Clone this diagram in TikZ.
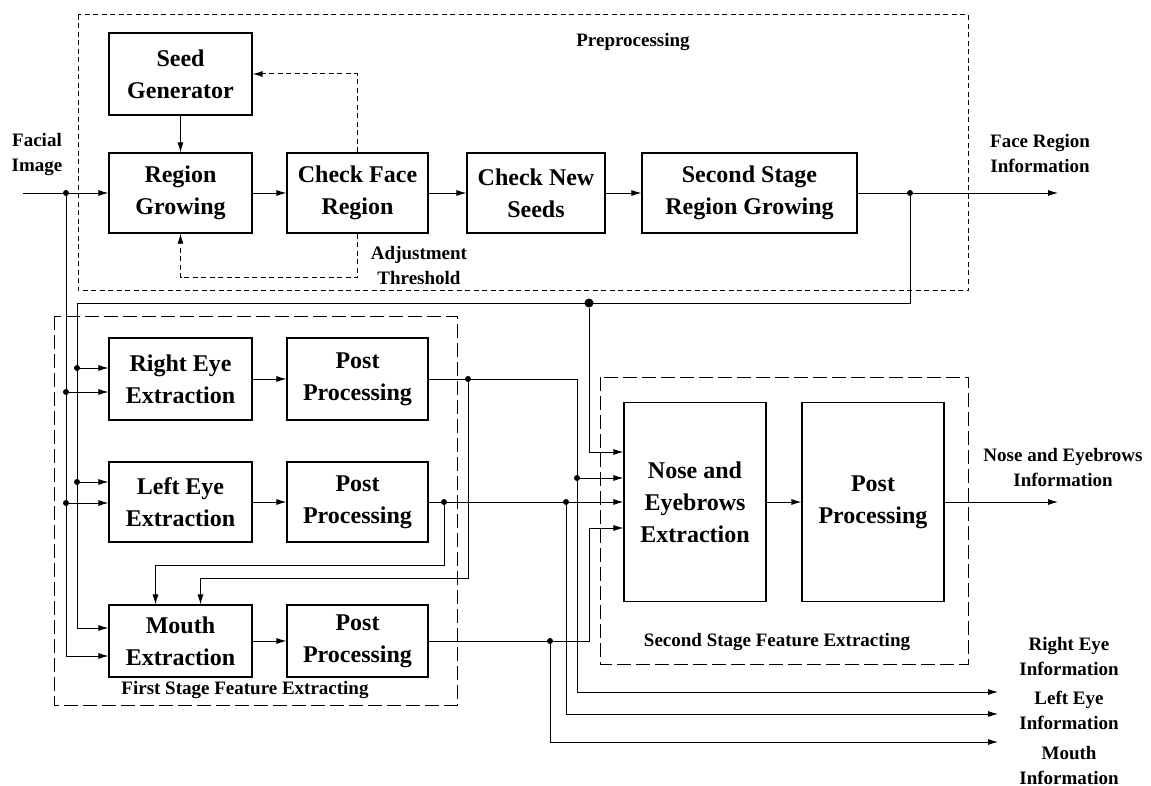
\documentclass[tikz,border=0pt]{standalone}
\usepackage{fontspec}
\setmainfont{Liberation Serif}
\usetikzlibrary{arrows.meta}

\tikzset{
  blk/.style={draw,line width=1.1pt,align=center,inner sep=0pt,
    font=\fontsize{24}{32}\selectfont\bfseries},
  lbl/.style={align=center,inner sep=0pt,
    font=\fontsize{19}{25}\selectfont\bfseries},
  area/.style={line width=1pt,dash pattern=on 14pt off 5pt},
  fback/.style={line width=1pt,dash pattern=on 5pt off 3.5pt},
  dot/.style={circle,fill,inner sep=0pt,minimum size=6pt}
}

\begin{document}
\begin{tikzpicture}[x=1pt,y=-1pt,>={Latex[length=10pt,width=6pt]},line width=0.9pt]
  \useasboundingbox (0,0) rectangle (1151,786);
  % preprocessing
  \draw[fback] (78,15) rectangle (968,291);
  \node[lbl] (pre) at (633,42) {Preprocessing};
  \node[blk,minimum width=143pt,minimum height=82pt] (seed) at (180.5,74) {Seed\\Generator};
  \node[blk,minimum width=143pt,minimum height=80pt] (grow) at (180.5,193) {Region\\Growing};
  \node[blk,minimum width=141pt,minimum height=80pt] (chk) at (357.5,193) {Check Face\\Region};
  \node[blk,minimum width=138pt,minimum height=80pt] (nseed) at (536,193) {Check New\\Seeds};
  \node[blk,minimum width=215pt,minimum height=80pt] (sgrow) at (749.5,193) {Second Stage\\Region Growing};
  \node[lbl] (fimg) at (37,155) {Facial\\Image};
  \node[lbl] (adjt) at (419,266) {Adjustment\\Threshold};
  \node[lbl] (finfo) at (1040,154) {Face Region\\Information};
  \coordinate (fin) at (23,193);
  \node[dot] (jin) at (66,193) {};
  \draw[->] (fin) -- (grow);
  \draw[->] (seed) -- (grow);
  \draw[->] (grow) -- (chk);
  \draw[->] (chk) -- (nseed);
  \draw[->] (nseed) -- (sgrow);
  \draw[fback,->] (chk.north) |- (seed.east);
  \coordinate (adj) at (357.5,278);
  \draw[fback,->] (chk.south) -- (adj) -| (grow.south);
  \node[dot] (jface) at (910,193) {};
  \coordinate (oface) at (1058,193);
  \draw[->] (sgrow) -- (oface);

  % first stage
  \draw[area] (54,316) rectangle (457,705);
  \node[lbl] (fst) at (245,690) {First Stage Feature Extracting};
  \node[blk,minimum width=143pt,minimum height=82pt] (rex) at (180.5,379) {Right Eye\\Extraction};
  \node[blk,minimum width=141pt,minimum height=82pt] (rpo) at (357.5,379) {Post\\Processing};
  \node[blk,minimum width=143pt,minimum height=80pt] (lex) at (180.5,502) {Left Eye\\Extraction};
  \node[blk,minimum width=141pt,minimum height=80pt] (lpo) at (357.5,502) {Post\\Processing};
  \node[blk,minimum width=143pt,minimum height=72pt] (mex) at (180.5,641) {Mouth\\Extraction};
  \node[blk,minimum width=141pt,minimum height=72pt] (mpo) at (357.5,641) {Post\\Processing};
  \draw[->] (rex) -- (rpo);
  \draw[->] (lex) -- (lpo);
  \draw[->] (mex) -- (mpo);
  \draw[->] (jin) |- ([yshift=-13pt]rex.west);
  \draw[->] (jin) |- ([yshift=-1pt]lex.west);
  \draw[->] (jin) |- ([yshift=-15pt]mex.west);
  \node[dot] (jrl) at (66,392) {};
  \node[dot] (jll) at (66,503) {};
  \coordinate (bend) at (77,303);
  \draw (jface) |- (bend);
  \draw[->] (bend) |- ([yshift=11pt]rex.west);
  \draw[->] (bend) |- ([yshift=20pt]lex.west);
  \draw[->] (bend) |- ([yshift=13pt]mex.west);
  \node[dot] (jru) at (77,368) {};
  \node[dot] (jlu) at (77,482) {};

  % second stage
  \draw[area] (600,377) rectangle (968,664);
  \node[lbl] (sst) at (777,642) {Second Stage Feature Extracting};
  \node[blk,minimum width=142pt,minimum height=199pt] (nose) at (695,502) {Nose and\\Eyebrows\\Extraction};
  \node[blk,minimum width=142pt,minimum height=199pt] (npost) at (873,502) {Post\\Processing};
  \draw[->] (nose) -- (npost);
  \coordinate (onose) at (1058,502);
  \draw[->] (npost) -- (onose);
  \node[lbl] (ninfo) at (1063,467) {Nose and Eyebrows\\Information};
  \node[dot,minimum size=9pt] (jnose) at (589,303) {};
  \draw[->] (jnose) |- ([yshift=50pt]nose.west);

  % right eye out
  \node[dot] (jr1) at (468,379) {};
  \node[dot] (jr2) at (577,478) {};
  \coordinate (vr) at (577,692);
  \coordinate (ore) at (998,692);
  \draw[->] (rpo) -| (vr) -- (ore);
  \draw[->] (jr2) -- (jr2 -| nose.west);
  \coordinate (fbr) at (468,578);
  \draw[->] (jr1) -- (fbr) -| ([xshift=20pt]mex.north);
  % left eye out
  \node[dot] (jl1) at (444,502) {};
  \node[dot] (jl2) at (566,502) {};
  \draw[->] (lpo) -- (lpo -| nose.west);
  \coordinate (fbl) at (444,565);
  \draw[->] (jl1) -- (fbl) -| ([xshift=-25pt]mex.north);
  \coordinate (ole) at (998,714);
  \draw[->] (jl2) |- (ole);
  % mouth out
  \node[dot] (jm) at (550,641) {};
  \coordinate (vm) at (589,528);
  \draw[->] (mpo) -| (vm) -- (vm -| nose.west);
  \coordinate (omo) at (998,742);
  \draw[->] (jm) |- (omo);

  \node[lbl] (reinfo) at (1069,656) {Right Eye\\Information};
  \node[lbl] (leinfo) at (1069,710) {Left Eye\\Information};
  \node[lbl] (moinfo) at (1069,765) {Mouth\\Information};
\end{tikzpicture}
\end{document}
